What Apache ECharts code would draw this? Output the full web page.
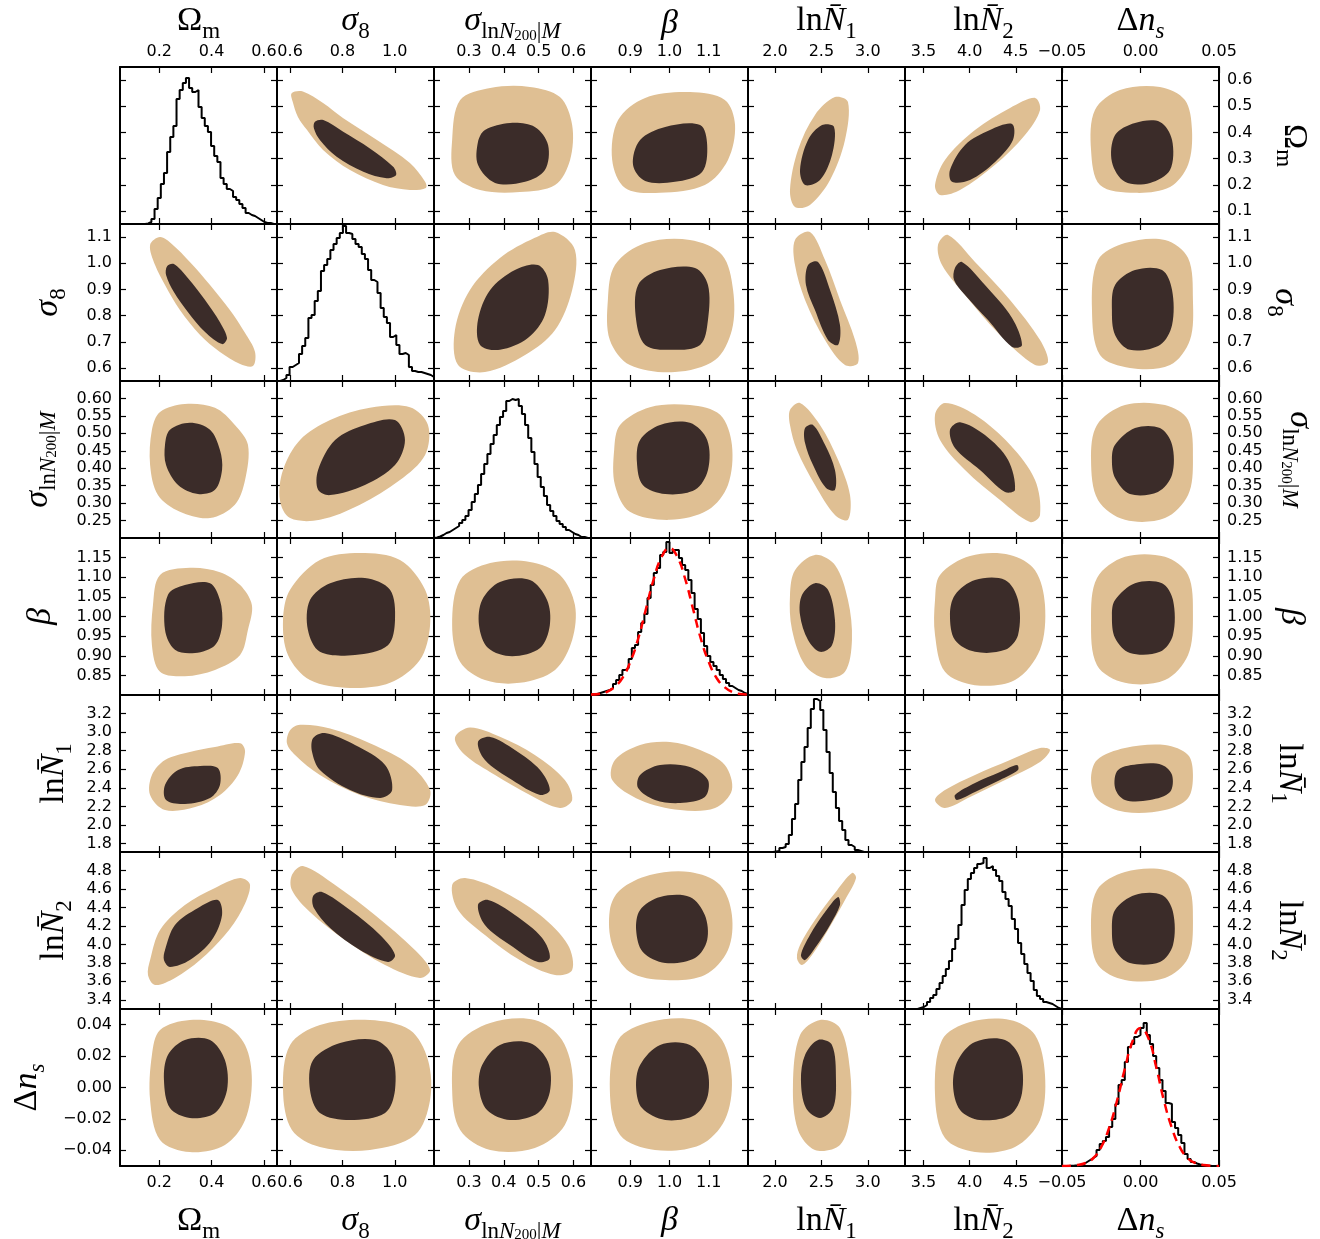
<!DOCTYPE html>
<html><head><meta charset="utf-8">
<script src="https://cdn.jsdelivr.net/npm/echarts@6/dist/echarts.min.js"></script>
<style>html,body{margin:0;padding:0;background:#fff}#c{width:1320px;height:1239px}</style>
</head><body><div id="c"></div>
<script>
// ---------------- data ----------------
const paramKeys = ['Om','s8','sig','beta','N1','N2','dns'];
const axisMin = [0.05, 0.55, 0.20, 0.80, 1.71, 3.30, -0.05];
const axisMax = [0.65, 1.15, 0.65, 1.20, 3.40, 5.00, 0.05];
const xTickValues = [[0.2,0.4,0.6],[0.6,0.8,1.0],[0.3,0.4,0.5,0.6],[0.9,1.0,1.1],[2.0,2.5,3.0],[3.5,4.0,4.5],[-0.05,0.0,0.05]];
const yTickValues = [[0.1,0.2,0.3,0.4,0.5,0.6],[0.6,0.7,0.8,0.9,1.0,1.1],[0.25,0.30,0.35,0.40,0.45,0.50,0.55,0.60],
  [0.85,0.90,0.95,1.00,1.05,1.10,1.15],[1.8,2.0,2.2,2.4,2.6,2.8,3.0,3.2],[3.4,3.6,3.8,4.0,4.2,4.4,4.6,4.8],[-0.04,-0.02,0.0,0.02,0.04]];
const xTickDecimals = [1,1,1,1,1,1,2];
const yTickDecimals = [1,1,2,2,1,1,2];

// 1D marginal histograms (50 bins each, starting at axisMin)
const histBinWidth = [0.012, 0.012, 0.009, 0.008, 0.0338, 0.034, 0.002];
const hist_Om = [0,0,0,0,0,0,0,0,0.5,2,5,15,26,40,51,72,87,98,125,134,141,146,136,132,134,117,106,98,92,78,68,62,46,40,35,33,27,24,20,16,11,9,8,6,4,2,1,1,0,0];
const hist_s8 = [0,1,3,6,14,16,18,27,35,43,63,66,80,90,110,116,122,131,137,143,148,155,148,147,142,137,134,127,122,111,101,99,88,73,64,58,44,46,36,27,28,26,14,10,9,9,8,7,6,4];
const hist_sig = [0.5,1.5,3,5,6,8,10,12,15,18,22,28,36,44,53,64,74,84,94,103,113,121,127,137,139,138,139,132,124,113,100,86,74,61,51,42,33,27,22,17,14,11,8,6,4,3,1,1,0,0];
const hist_beta = [1,1,2,3,4,5,7,11,15,20,25,27,36,47,50,63,72,81,97,110,122,127,140,143,153,142,145,145,137,130,125,115,102,86,76,62,49,39,33,29,25,20,16,12,9,7,5,4,2,1];
const hist_N1 = [0,0,0,0,0,0,0,0,0.5,1,4,5,8,17,33,48,72,90,105,124,143,153,151,142,122,100,79,60,44,31,22,12,7,5,2,1,0,0,0,0,0,0,0,0,0,0,0,0,0,0];
const hist_N2 = [0,0,0,0,1,2,4,7,11,14,20,26,33,40,48,60,70,84,104,119,130,136,141,145,146,151,141,143,139,133,128,117,110,103,90,80,66,55,45,36,28,19,13,10,7,6,5,3,1,0];
const hist_dns = [0,0,0.3,0.5,0.8,1.2,2,4,6,8,10,16,22,25,29,39,47,62,81,86,104,119,122,129,131,138,143,131,122,110,98,86,75,63,62,44,38,31,23,12,7,4,2.5,1.5,1,0.5,0.3,0,0,0];

// red dashed prior curves
const prior_beta = [[0.80,0.5],[0.82,1],[0.84,3],[0.86,8],[0.88,17],[0.90,33],[0.92,56],[0.94,86],[0.96,116],[0.98,138],[1.00,147],[1.02,138],[1.04,116],[1.06,86],[1.08,56],[1.10,33],[1.12,17],[1.14,8],[1.16,3],[1.18,1],[1.20,0.5]];
const prior_dns = [[-0.05,0],[-0.04,1],[-0.035,3],[-0.03,8],[-0.025,19],[-0.02,38],[-0.015,65],[-0.01,97],[-0.005,125],[0.0,138],[0.005,128],[0.01,99],[0.015,65],[0.02,38],[0.025,19],[0.03,8],[0.035,3],[0.04,1],[0.05,0]];

// 2D contours, lower triangle (x = column parameter, y = row parameter)
const c_s8_Om_out = [[0.165,1.070],[0.203,1.100],[0.249,1.073],[0.317,1.005],[0.394,0.917],[0.470,0.821],[0.528,0.733],[0.566,0.661],[0.558,0.607],[0.509,0.615],[0.432,0.661],[0.356,0.726],[0.279,0.821],[0.222,0.917],[0.184,0.993]];
const c_s8_Om_in = [[0.230,0.989],[0.256,0.997],[0.310,0.943],[0.375,0.860],[0.432,0.775],[0.459,0.714],[0.440,0.691],[0.375,0.737],[0.310,0.813],[0.256,0.890],[0.226,0.955]];
const c_sig_Om_out = [[0.203,0.561],[0.298,0.584],[0.413,0.573],[0.489,0.524],[0.539,0.467],[0.528,0.366],[0.489,0.295],[0.394,0.257],[0.279,0.275],[0.195,0.323],[0.165,0.409],[0.172,0.510]];
const c_sig_Om_in = [[0.241,0.510],[0.317,0.530],[0.394,0.510],[0.432,0.452],[0.440,0.395],[0.413,0.338],[0.348,0.326],[0.272,0.352],[0.226,0.409],[0.222,0.467]];
const c_sig_s8_out = [[0.573,0.395],[0.638,0.481],[0.753,0.538],[0.905,0.573],[1.058,0.575],[1.127,0.524],[1.116,0.438],[1.020,0.366],[0.867,0.295],[0.714,0.252],[0.600,0.257],[0.561,0.309]];
const c_sig_s8_in = [[0.707,0.395],[0.772,0.481],[0.886,0.524],[1.001,0.538],[1.039,0.481],[1.001,0.409],[0.886,0.352],[0.753,0.323],[0.707,0.338]];
const c_beta_Om_out = [[0.203,1.106],[0.317,1.124],[0.432,1.113],[0.509,1.080],[0.554,1.029],[0.539,0.966],[0.509,0.902],[0.413,0.864],[0.298,0.848],[0.203,0.859],[0.172,0.927],[0.176,1.029]];
const c_beta_Om_in = [[0.233,1.055],[0.298,1.080],[0.394,1.085],[0.432,1.042],[0.440,0.978],[0.413,0.927],[0.337,0.907],[0.260,0.915],[0.222,0.966]];
const c_beta_s8_out = [[0.600,1.068],[0.714,1.144],[0.867,1.162],[1.020,1.144],[1.116,1.068],[1.135,0.978],[1.096,0.889],[0.982,0.831],[0.829,0.818],[0.676,0.838],[0.592,0.902],[0.573,0.991]];
const c_beta_s8_in = [[0.676,1.042],[0.753,1.085],[0.886,1.098],[0.982,1.068],[1.001,0.991],[0.974,0.927],[0.848,0.902],[0.714,0.910],[0.668,0.966]];
const c_beta_sig_out = [[0.275,1.093],[0.361,1.136],[0.475,1.139],[0.561,1.106],[0.604,1.029],[0.596,0.940],[0.547,0.864],[0.446,0.831],[0.346,0.838],[0.275,0.884],[0.252,0.978]];
const c_beta_sig_in = [[0.338,1.042],[0.389,1.088],[0.475,1.093],[0.524,1.042],[0.532,0.978],[0.504,0.920],[0.424,0.899],[0.355,0.920],[0.329,0.978]];
const c_N1_Om_out = [[0.172,2.539],[0.222,2.700],[0.317,2.786],[0.413,2.840],[0.509,2.880],[0.528,2.790],[0.501,2.539],[0.432,2.324],[0.337,2.194],[0.222,2.162],[0.165,2.324]];
const c_N1_Om_in = [[0.222,2.431],[0.272,2.593],[0.356,2.636],[0.424,2.614],[0.432,2.431],[0.394,2.291],[0.298,2.227],[0.226,2.270]];
const c_N1_s8_out = [[0.600,3.020],[0.638,3.080],[0.753,3.040],[0.905,2.880],[1.058,2.647],[1.135,2.377],[1.116,2.216],[1.020,2.216],[0.867,2.324],[0.714,2.539],[0.619,2.754],[0.588,2.880]];
const c_N1_s8_in = [[0.688,2.937],[0.733,2.991],[0.848,2.862],[0.963,2.647],[0.990,2.377],[0.944,2.291],[0.829,2.377],[0.714,2.593],[0.684,2.786]];
const c_N1_sig_out = [[0.260,2.940],[0.303,3.050],[0.389,2.950],[0.489,2.754],[0.575,2.485],[0.596,2.270],[0.561,2.184],[0.475,2.324],[0.375,2.539],[0.289,2.754]];
const c_N1_sig_in = [[0.326,2.894],[0.361,2.948],[0.432,2.808],[0.504,2.593],[0.532,2.377],[0.504,2.324],[0.424,2.485],[0.346,2.700]];
const c_N1_beta_out = [[0.861,2.700],[0.925,2.862],[1.001,2.894],[1.078,2.808],[1.141,2.647],[1.159,2.377],[1.116,2.184],[1.027,2.162],[0.925,2.270],[0.854,2.485]];
const c_N1_beta_in = [[0.925,2.539],[0.976,2.647],[1.052,2.625],[1.098,2.485],[1.090,2.302],[1.027,2.237],[0.963,2.270],[0.920,2.399]];
const c_N2_Om_out = [[0.165,3.830],[0.203,4.155],[0.298,4.426],[0.413,4.610],[0.509,4.718],[0.547,4.643],[0.516,4.372],[0.451,4.101],[0.356,3.830],[0.260,3.636],[0.184,3.560],[0.157,3.668]];
const c_N2_Om_in = [[0.222,3.939],[0.260,4.210],[0.348,4.394],[0.424,4.480],[0.440,4.318],[0.401,4.047],[0.317,3.830],[0.241,3.755],[0.218,3.830]];
const c_N2_s8_out = [[0.607,4.751],[0.649,4.848],[0.772,4.643],[0.924,4.318],[1.077,3.939],[1.135,3.722],[1.096,3.636],[0.963,3.776],[0.810,4.047],[0.676,4.350],[0.607,4.589]];
const c_N2_s8_in = [[0.688,4.524],[0.722,4.567],[0.829,4.372],[0.944,4.101],[1.001,3.885],[0.974,3.809],[0.867,3.939],[0.753,4.177],[0.691,4.394]];
const c_N2_sig_out = [[0.252,4.643],[0.289,4.718],[0.389,4.589],[0.504,4.318],[0.584,3.993],[0.596,3.722],[0.547,3.668],[0.446,3.830],[0.346,4.101],[0.269,4.372]];
const c_N2_sig_in = [[0.326,4.426],[0.355,4.480],[0.432,4.318],[0.510,4.069],[0.532,3.852],[0.498,3.809],[0.418,3.993],[0.346,4.210]];
const c_N2_beta_out = [[0.874,4.589],[0.950,4.751],[1.052,4.783],[1.129,4.643],[1.159,4.318],[1.149,3.939],[1.090,3.668],[0.989,3.614],[0.899,3.701],[0.854,3.993],[0.848,4.372]];
const c_N2_beta_in = [[0.925,4.372],[0.976,4.513],[1.052,4.513],[1.090,4.318],[1.096,4.047],[1.065,3.852],[0.989,3.798],[0.932,3.917],[0.915,4.155]];
const c_N2_N1_out = [[2.237,3.852],[2.270,3.993],[2.431,4.264],[2.646,4.556],[2.829,4.773],[2.873,4.718],[2.754,4.480],[2.571,4.155],[2.399,3.885],[2.291,3.776]];
const c_N2_N1_in = [[2.280,3.885],[2.377,4.101],[2.539,4.350],[2.679,4.513],[2.700,4.426],[2.593,4.210],[2.431,3.960],[2.324,3.830]];
const c_dns_Om_out = [[0.203,0.0366],[0.317,0.0430],[0.451,0.0398],[0.528,0.0271],[0.554,0.0048],[0.528,-0.0207],[0.451,-0.0366],[0.317,-0.0411],[0.203,-0.0334],[0.165,-0.0080],[0.172,0.0207]];
const c_dns_Om_in = [[0.233,0.0207],[0.298,0.0303],[0.394,0.0303],[0.451,0.0175],[0.459,-0.0016],[0.413,-0.0162],[0.317,-0.0194],[0.241,-0.0131],[0.218,0.0048]];
const c_dns_s8_out = [[0.600,0.0271],[0.714,0.0398],[0.905,0.0430],[1.058,0.0366],[1.127,0.0175],[1.135,-0.0080],[1.077,-0.0303],[0.905,-0.0398],[0.714,-0.0379],[0.607,-0.0271],[0.573,-0.0016]];
const c_dns_s8_in = [[0.688,0.0175],[0.791,0.0283],[0.924,0.0303],[0.989,0.0207],[1.001,-0.0016],[0.963,-0.0162],[0.829,-0.0207],[0.714,-0.0162],[0.676,-0.0016]];
const c_dns_sig_out = [[0.269,0.0271],[0.361,0.0411],[0.489,0.0430],[0.567,0.0303],[0.598,0.0048],[0.575,-0.0239],[0.489,-0.0385],[0.361,-0.0398],[0.275,-0.0271],[0.252,-0.0016]];
const c_dns_sig_in = [[0.338,0.0143],[0.389,0.0271],[0.475,0.0283],[0.527,0.0162],[0.532,-0.0029],[0.498,-0.0162],[0.418,-0.0207],[0.352,-0.0143],[0.329,-0.0003]];
const c_dns_beta_out = [[0.869,0.0303],[0.950,0.0417],[1.065,0.0430],[1.134,0.0303],[1.159,0.0048],[1.141,-0.0207],[1.078,-0.0366],[0.963,-0.0398],[0.874,-0.0303],[0.848,-0.0016]];
const c_dns_beta_in = [[0.925,0.0143],[0.976,0.0271],[1.052,0.0271],[1.093,0.0143],[1.098,-0.0048],[1.065,-0.0175],[0.989,-0.0207],[0.930,-0.0131],[0.915,-0.0003]];
const c_dns_N1_out = [[2.270,0.0334],[2.485,0.0430],[2.700,0.0379],[2.808,0.0111],[2.808,-0.0175],[2.700,-0.0366],[2.431,-0.0398],[2.248,-0.0271],[2.194,0.0016]];
const c_dns_N1_in = [[2.324,0.0207],[2.464,0.0303],[2.614,0.0271],[2.657,0.0048],[2.625,-0.0131],[2.485,-0.0194],[2.334,-0.0131],[2.280,0.0048]];
const c_dns_N2_out = [[3.701,0.0303],[4.004,0.0417],[4.437,0.0430],[4.708,0.0334],[4.816,0.0080],[4.762,-0.0207],[4.491,-0.0379],[4.058,-0.0411],[3.733,-0.0322],[3.625,-0.0048]];
const c_dns_N2_in = [[3.874,0.0175],[4.058,0.0290],[4.383,0.0303],[4.545,0.0188],[4.567,-0.0035],[4.437,-0.0175],[4.112,-0.0207],[3.896,-0.0143],[3.820,0.0016]];

// 2D contours, upper triangle (x = column parameter, y = row parameter)
const u_Om_s8_out = [[0.606,0.550],[0.649,0.556],[0.726,0.512],[0.802,0.455],[0.932,0.371],[1.058,0.283],[1.116,0.211],[1.119,0.188],[1.058,0.180],[0.955,0.199],[0.829,0.256],[0.726,0.333],[0.665,0.409],[0.630,0.459],[0.610,0.517]];
const u_Om_s8_in = [[0.695,0.441],[0.727,0.447],[0.803,0.403],[0.905,0.339],[0.994,0.269],[1.005,0.237],[0.969,0.225],[0.880,0.250],[0.778,0.307],[0.714,0.371],[0.691,0.416]];
const u_Om_sig_out = [[0.275,0.524],[0.361,0.570],[0.475,0.574],[0.561,0.535],[0.596,0.428],[0.590,0.295],[0.547,0.199],[0.446,0.172],[0.332,0.180],[0.260,0.237],[0.252,0.371]];
const u_Om_sig_in = [[0.346,0.409],[0.418,0.436],[0.489,0.421],[0.527,0.352],[0.518,0.256],[0.461,0.211],[0.375,0.207],[0.326,0.276],[0.326,0.363]];
const u_Om_beta_out = [[0.869,0.447],[0.938,0.532],[1.052,0.554],[1.141,0.524],[1.167,0.428],[1.149,0.295],[1.090,0.199],[0.976,0.169],[0.887,0.188],[0.854,0.295]];
const u_Om_beta_in = [[0.925,0.371],[0.989,0.421],[1.078,0.428],[1.096,0.352],[1.083,0.249],[1.014,0.211],[0.938,0.214],[0.907,0.276]];
const u_Om_N1_out = [[2.162,0.180],[2.248,0.333],[2.431,0.467],[2.646,0.535],[2.786,0.516],[2.754,0.371],[2.593,0.218],[2.377,0.123],[2.216,0.115]];
const u_Om_N1_in = [[2.270,0.256],[2.356,0.371],[2.507,0.428],[2.636,0.421],[2.614,0.314],[2.485,0.218],[2.324,0.199]];
const u_Om_N2_out = [[3.625,0.199],[3.733,0.295],[4.058,0.409],[4.437,0.493],[4.708,0.532],[4.762,0.486],[4.599,0.390],[4.275,0.276],[3.896,0.180],[3.679,0.161]];
const u_Om_N2_in = [[3.787,0.256],[3.950,0.352],[4.220,0.409],[4.459,0.432],[4.469,0.371],[4.275,0.287],[4.004,0.218],[3.809,0.211]];
const u_Om_dns_out = [[-0.0290,0.486],[-0.0131,0.562],[0.0124,0.574],[0.0283,0.524],[0.0328,0.409],[0.0303,0.276],[0.0188,0.191],[-0.0035,0.169],[-0.0258,0.199],[-0.0315,0.333]];
const u_Om_dns_in = [[-0.0162,0.390],[-0.0035,0.436],[0.0124,0.440],[0.0201,0.371],[0.0188,0.256],[0.0061,0.207],[-0.0099,0.211],[-0.0182,0.287]];
const u_s8_sig_out = [[0.260,0.745],[0.303,0.898],[0.389,1.020],[0.489,1.097],[0.547,1.119],[0.604,1.051],[0.596,0.898],[0.547,0.745],[0.461,0.649],[0.346,0.584],[0.269,0.611]];
const u_s8_sig_in = [[0.326,0.783],[0.361,0.898],[0.432,0.974],[0.498,0.993],[0.527,0.936],[0.518,0.802],[0.469,0.714],[0.389,0.669],[0.332,0.688]];
const u_s8_beta_out = [[0.861,0.993],[0.938,1.077],[1.052,1.089],[1.134,1.032],[1.162,0.898],[1.159,0.745],[1.116,0.630],[1.014,0.584],[0.899,0.611],[0.848,0.707],[0.843,0.860]];
const u_s8_beta_in = [[0.920,0.917],[0.976,0.974],[1.065,0.982],[1.098,0.917],[1.098,0.783],[1.078,0.688],[1.001,0.669],[0.938,0.688],[0.915,0.783]];
const u_s8_N1_out = [[2.216,1.089],[2.377,1.119],[2.539,1.012],[2.700,0.860],[2.862,0.707],[2.894,0.619],[2.754,0.611],[2.539,0.707],[2.324,0.860],[2.216,0.993]];
const u_s8_N1_in = [[2.356,0.993],[2.464,1.005],[2.593,0.898],[2.700,0.764],[2.679,0.688],[2.571,0.707],[2.431,0.821],[2.334,0.917]];
const u_s8_N2_out = [[3.657,1.070],[3.766,1.108],[4.058,1.005],[4.437,0.860],[4.762,0.707],[4.848,0.623],[4.708,0.611],[4.329,0.726],[3.950,0.879],[3.701,0.993]];
const u_s8_N2_in = [[3.841,0.982],[3.917,1.005],[4.166,0.917],[4.459,0.791],[4.567,0.688],[4.459,0.680],[4.199,0.783],[3.950,0.879],[3.831,0.936]];
const u_s8_dns_out = [[-0.0271,1.012],[-0.0099,1.077],[0.0156,1.089],[0.0303,1.020],[0.0334,0.860],[0.0315,0.707],[0.0188,0.611],[-0.0067,0.600],[-0.0258,0.649],[-0.0309,0.821]];
const u_s8_dns_in = [[-0.0162,0.917],[-0.0035,0.974],[0.0137,0.974],[0.0201,0.898],[0.0201,0.764],[0.0124,0.688],[-0.0067,0.669],[-0.0162,0.726],[-0.0182,0.821]];
const u_sig_beta_out = [[0.874,0.524],[0.950,0.575],[1.052,0.581],[1.129,0.553],[1.159,0.467],[1.149,0.352],[1.098,0.280],[1.001,0.252],[0.899,0.275],[0.861,0.352],[0.859,0.452]];
const u_sig_beta_in = [[0.925,0.481],[0.976,0.524],[1.052,0.530],[1.096,0.481],[1.098,0.395],[1.065,0.338],[0.989,0.326],[0.932,0.352],[0.917,0.418]];
const u_sig_N1_out = [[2.162,0.567],[2.270,0.587],[2.485,0.524],[2.679,0.424],[2.808,0.323],[2.786,0.252],[2.646,0.266],[2.431,0.352],[2.237,0.452],[2.162,0.524]];
const u_sig_N1_in = [[2.324,0.515],[2.410,0.524],[2.539,0.467],[2.646,0.395],[2.646,0.338],[2.550,0.343],[2.410,0.409],[2.324,0.472]];
const u_sig_N2_out = [[3.625,0.553],[3.733,0.587],[4.058,0.553],[4.437,0.467],[4.708,0.366],[4.762,0.266],[4.654,0.246],[4.329,0.309],[3.950,0.395],[3.679,0.481]];
const u_sig_N2_in = [[3.787,0.510],[3.896,0.532],[4.166,0.495],[4.415,0.424],[4.491,0.338],[4.383,0.332],[4.112,0.395],[3.841,0.458]];
const u_sig_dns_out = [[-0.0277,0.524],[-0.0099,0.581],[0.0156,0.581],[0.0303,0.538],[0.0334,0.424],[0.0303,0.323],[0.0156,0.257],[-0.0099,0.252],[-0.0271,0.309],[-0.0315,0.424]];
const u_sig_dns_in = [[-0.0162,0.467],[-0.0035,0.515],[0.0124,0.515],[0.0201,0.467],[0.0201,0.381],[0.0111,0.332],[-0.0067,0.326],[-0.0162,0.372],[-0.0182,0.424]];
const u_beta_N1_out = [[2.216,1.118],[2.431,1.157],[2.646,1.131],[2.786,1.042],[2.829,0.940],[2.754,0.859],[2.539,0.843],[2.324,0.876],[2.184,0.966],[2.162,1.055]];
const u_beta_N1_in = [[2.291,1.055],[2.431,1.085],[2.571,1.068],[2.646,0.991],[2.614,0.927],[2.485,0.910],[2.356,0.940],[2.270,1.004]];
const u_beta_N2_out = [[3.679,1.106],[4.004,1.154],[4.437,1.157],[4.708,1.118],[4.816,1.029],[4.762,0.915],[4.491,0.838],[4.058,0.825],[3.733,0.859],[3.625,0.953],[3.625,1.042]];
const u_beta_N2_in = [[3.841,1.055],[4.058,1.093],[4.383,1.093],[4.524,1.042],[4.524,0.953],[4.383,0.915],[4.058,0.910],[3.841,0.940],[3.787,1.004]];
const u_beta_dns_out = [[-0.0277,1.098],[-0.0099,1.152],[0.0156,1.152],[0.0303,1.106],[0.0334,1.004],[0.0303,0.902],[0.0156,0.838],[-0.0099,0.831],[-0.0277,0.876],[-0.0315,0.991]];
const u_beta_dns_in = [[-0.0162,1.042],[-0.0035,1.085],[0.0137,1.085],[0.0207,1.042],[0.0207,0.953],[0.0124,0.910],[-0.0067,0.907],[-0.0162,0.945],[-0.0182,1.004]];
const u_N1_N2_out = [[3.625,2.270],[3.733,2.377],[4.058,2.539],[4.437,2.700],[4.762,2.829],[4.870,2.808],[4.762,2.679],[4.383,2.485],[4.004,2.302],[3.733,2.184]];
const u_N1_N2_in = [[3.841,2.324],[4.058,2.453],[4.329,2.571],[4.513,2.647],[4.524,2.593],[4.329,2.485],[4.058,2.356],[3.863,2.270]];
const u_N1_dns_out = [[-0.0277,2.700],[-0.0099,2.829],[0.0156,2.862],[0.0303,2.754],[0.0334,2.539],[0.0303,2.291],[0.0156,2.162],[-0.0099,2.141],[-0.0271,2.270],[-0.0315,2.485]];
const u_N1_dns_in = [[-0.0143,2.593],[-0.0003,2.657],[0.0137,2.647],[0.0201,2.539],[0.0188,2.356],[0.0061,2.270],[-0.0099,2.270],[-0.0162,2.399]];
const u_N2_dns_out = [[-0.0277,4.589],[-0.0099,4.783],[0.0156,4.805],[0.0303,4.643],[0.0334,4.264],[0.0303,3.852],[0.0156,3.636],[-0.0099,3.614],[-0.0271,3.776],[-0.0315,4.155]];
const u_N2_dns_in = [[-0.0162,4.372],[-0.0035,4.534],[0.0137,4.534],[0.0207,4.350],[0.0207,3.993],[0.0124,3.809],[-0.0067,3.798],[-0.0162,3.939],[-0.0182,4.155]];

// ---------------- build ----------------
const hists = [hist_Om, hist_s8, hist_sig, hist_beta, hist_N1, hist_N2, hist_dns];
const priors = {3: prior_beta, 6: prior_dns};
const contourTable = {
  '1,0':[c_s8_Om_out,c_s8_Om_in],
  '2,0':[c_sig_Om_out,c_sig_Om_in], '2,1':[c_sig_s8_out,c_sig_s8_in],
  '3,0':[c_beta_Om_out,c_beta_Om_in], '3,1':[c_beta_s8_out,c_beta_s8_in], '3,2':[c_beta_sig_out,c_beta_sig_in],
  '4,0':[c_N1_Om_out,c_N1_Om_in], '4,1':[c_N1_s8_out,c_N1_s8_in], '4,2':[c_N1_sig_out,c_N1_sig_in], '4,3':[c_N1_beta_out,c_N1_beta_in],
  '5,0':[c_N2_Om_out,c_N2_Om_in], '5,1':[c_N2_s8_out,c_N2_s8_in], '5,2':[c_N2_sig_out,c_N2_sig_in], '5,3':[c_N2_beta_out,c_N2_beta_in], '5,4':[c_N2_N1_out,c_N2_N1_in],
  '6,0':[c_dns_Om_out,c_dns_Om_in], '6,1':[c_dns_s8_out,c_dns_s8_in], '6,2':[c_dns_sig_out,c_dns_sig_in], '6,3':[c_dns_beta_out,c_dns_beta_in], '6,4':[c_dns_N1_out,c_dns_N1_in], '6,5':[c_dns_N2_out,c_dns_N2_in],
  '0,1':[u_Om_s8_out,u_Om_s8_in], '0,2':[u_Om_sig_out,u_Om_sig_in], '0,3':[u_Om_beta_out,u_Om_beta_in], '0,4':[u_Om_N1_out,u_Om_N1_in], '0,5':[u_Om_N2_out,u_Om_N2_in], '0,6':[u_Om_dns_out,u_Om_dns_in],
  '1,2':[u_s8_sig_out,u_s8_sig_in], '1,3':[u_s8_beta_out,u_s8_beta_in], '1,4':[u_s8_N1_out,u_s8_N1_in], '1,5':[u_s8_N2_out,u_s8_N2_in], '1,6':[u_s8_dns_out,u_s8_dns_in],
  '2,3':[u_sig_beta_out,u_sig_beta_in], '2,4':[u_sig_N1_out,u_sig_N1_in], '2,5':[u_sig_N2_out,u_sig_N2_in], '2,6':[u_sig_dns_out,u_sig_dns_in],
  '3,4':[u_beta_N1_out,u_beta_N1_in], '3,5':[u_beta_N2_out,u_beta_N2_in], '3,6':[u_beta_dns_out,u_beta_dns_in],
  '4,5':[u_N1_N2_out,u_N1_N2_in], '4,6':[u_N1_dns_out,u_N1_dns_in],
  '5,6':[u_N2_dns_out,u_N2_dns_in]
};
const TAN = '#dfbf93', DARK = '#3b2c29';
const SERIF = 'Liberation Serif';
const titleRich = {
  g:{fontFamily:SERIF,fontSize:34,lineHeight:44,verticalAlign:'middle',color:'#000'},
  gi:{fontFamily:SERIF,fontStyle:'italic',fontSize:34,lineHeight:44,verticalAlign:'middle',color:'#000'},
  s:{fontFamily:SERIF,fontSize:23,lineHeight:44,verticalAlign:'bottom',color:'#000'},
  si:{fontFamily:SERIF,fontStyle:'italic',fontSize:23,lineHeight:44,verticalAlign:'bottom',color:'#000'},
  ss:{fontFamily:SERIF,fontSize:15,lineHeight:44,verticalAlign:'bottom',color:'#000'}
};
const titles = ['{g|\u03A9}{s|m}','{gi|\u03C3}{s|8}','{gi|\u03C3}{s|ln}{si|N}{ss|200}{s||}{si|M}','{gi|\u03B2}',
  '{g|ln}{gi|N\u0304}{s|1}','{g|ln}{gi|N\u0304}{s|2}','{g|\u0394}{gi|n}{si|s}'];
const leftGap = [0,50,60,57,44,44,71];
const rightGap = [53,44,59,50,48,48,0];
const CELL = 157, LEFT0 = 120, TOP0 = 67, NP = 7;

function fmt(v, d){ let s = (Math.abs(v) < 1e-12 ? 0 : v).toFixed(d); return s.replace('-', '\u2212'); }
const labelFont = {color:'#000', fontFamily:'DejaVu Sans', fontSize:16};
function tick(vals){ return {show:true, inside:true, length:6, customValues:vals, lineStyle:{color:'#000', width:1.2}}; }
const axLine = {show:true, onZero:false, lineStyle:{color:'#000', width:2}};

const grids=[], xAxes=[], yAxes=[], series=[];
for (let r=0;r<NP;r++){
  for (let c=0;c<NP;c++){
    const g = grids.length;
    grids.push({left:LEFT0+c*CELL, top:TOP0+r*CELL, width:CELL, height:CELL, containLabel:false, outerBoundsMode:'none'});
    const mkX = (pos, showLab, name, gap, margin) => ({type:'value', gridIndex:g, position:pos, min:axisMin[c], max:axisMax[c],
      splitLine:{show:false}, axisLine:axLine, axisTick:tick(xTickValues[c]),
      axisLabel:{show:showLab, customValues:xTickValues[c], formatter:v=>fmt(v,xTickDecimals[c]), margin:margin, hideOverlap:false, ...labelFont},
      name:name, nameLocation:'middle', nameGap:gap, nameTextStyle:{rich:titleRich}});
    const mkY = (pos, showLab, name, gap, rot) => ({type:'value', gridIndex:g, position:pos, min:axisMin[r], max:axisMax[r],
      splitLine:{show:false}, axisLine:axLine, axisTick:tick(yTickValues[r]),
      axisLabel:{show:showLab, customValues:yTickValues[r], formatter:v=>fmt(v,yTickDecimals[r]), margin:8, hideOverlap:false, ...labelFont},
      name:name, nameLocation:'middle', nameGap:gap, nameRotate:rot, nameTextStyle:{rich:titleRich}});
    const xb = xAxes.length; xAxes.push(mkX('bottom', r===NP-1, r===NP-1?titles[c]:'', 33, 9));
    xAxes.push(mkX('top', r===0, r===0?titles[c]:'', 21, 7));
    const yl = yAxes.length; yAxes.push(mkY('left', c===0 && r>0, (c===0&&r>0)?titles[r]:'', leftGap[r], 90));
    yAxes.push(mkY('right', c===NP-1 && r<NP-1, (c===NP-1&&r<NP-1)?titles[r]:'', rightGap[r], -90));
    if (r===c){
      const yh = yAxes.length;
      yAxes.push({type:'value', gridIndex:g, show:false, min:0, max:CELL});
      const h = hists[c], w = histBinWidth[c], s0 = axisMin[c];
      const pts = [[s0,0]];
      for (let k=0;k<h.length;k++){ pts.push([s0+k*w, h[k]], [s0+(k+1)*w, h[k]]); }
      series.push({type:'line', xAxisIndex:xb, yAxisIndex:yh, data:pts, symbol:'none', silent:true,
        lineStyle:{color:'#000', width:2}, z:3});
      if (priors[c]) series.push({type:'line', xAxisIndex:xb, yAxisIndex:yh, data:priors[c], smooth:true, symbol:'none', silent:true,
        lineStyle:{color:'#ff0000', width:2.5, type:[9,6]}, z:4});
    } else {
      const p = contourTable[r+','+c];
      const polys = [{pts:p[0], color:TAN},{pts:p[1], color:DARK}];
      series.push({type:'custom', coordinateSystem:'cartesian2d', xAxisIndex:xb, yAxisIndex:yl, silent:true, z:2,
        data: polys.map(q=>q.pts[0]),
        renderItem:(params, api)=>{
          const q = polys[params.dataIndex];
          return {type:'polygon', shape:{points:q.pts.map(d=>api.coord(d)), smooth:0.33}, style:{fill:q.color}};
        }});
    }
  }
}
const chart = echarts.init(document.getElementById('c'), null, {renderer:'canvas'});
chart.setOption({animation:false, backgroundColor:'#fff', grid:grids, xAxis:xAxes, yAxis:yAxes, series:series});
</script></body></html>
